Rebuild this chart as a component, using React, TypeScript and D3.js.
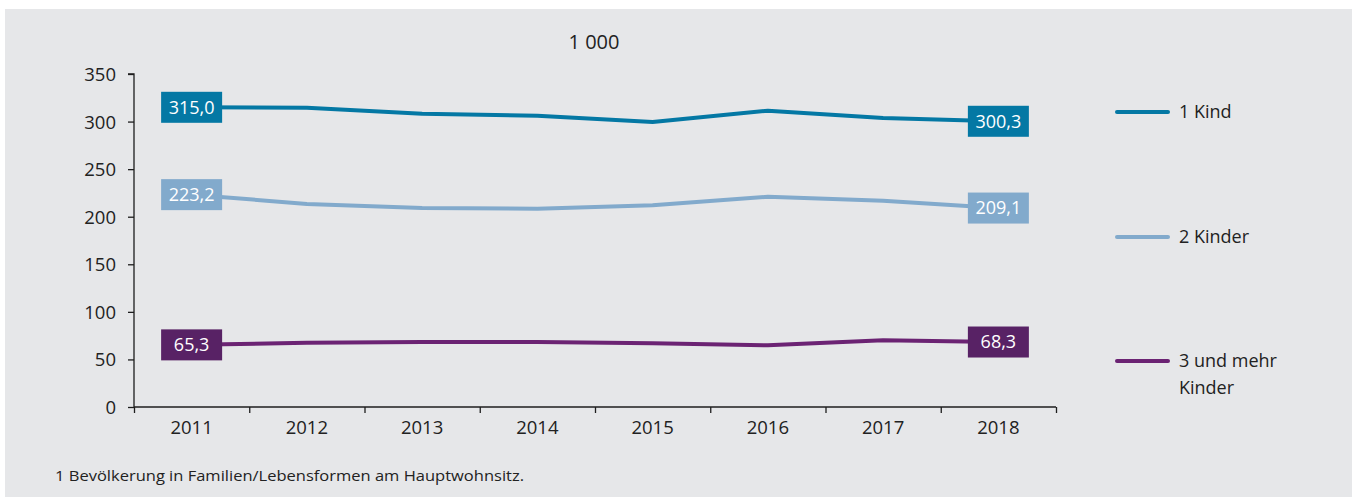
import { useRef, useEffect } from "react";
import * as d3 from "d3";

const years = ["2011", "2012", "2013", "2014", "2015", "2016", "2017", "2018"];
const einKind = [315.0, 314.6, 308.3, 306.2, 299.6, 311.4, 303.8, 300.3];
const zweiKinder = [223.2, 213.4, 209.2, 208.4, 212.0, 221.0, 216.8, 209.1];
const dreiUndMehr = [65.3, 67.6, 68.3, 68.4, 67.0, 64.8, 70.2, 68.3];
const seriesNames = ["1 Kind", "2 Kinder", "3 und mehr Kinder"];
const yTicks = [0, 50, 100, 150, 200, 250, 300, 350];
const unitLabel = "1 000";
const footnote = "1 Bevölkerung  in Familien/Lebensformen am Hauptwohnsitz.";

const W = 1352;
const H = 497;
const font = "'Open Sans', 'Noto Sans', sans-serif";

const App = () => {
  const svgRef = useRef<SVGSVGElement>(null);

  useEffect(() => {
    const svg = d3.select(svgRef.current);
    svg.selectAll("*").remove();

    // background panel
    svg.append("rect").attr("x", 5).attr("y", 9).attr("width", W - 5).attr("height", H - 9).attr("fill", "#e6e7e9");

    // scales
    const x = d3.scaleBand().domain(years).range([134, 1056]);
    const xEdge = d3.scaleLinear().domain([0, years.length]).range([134, 1056]);
    const y = d3.scaleLinear().domain([0, 350]).range([407, 74]);

    // axes
    const yAxis = svg
      .append("g")
      .attr("transform", "translate(134,0)")
      .call(d3.axisLeft(y).tickValues(yTicks).tickSize(6).tickPadding(12).tickFormat((d) => String(d)));
    const xTicks = svg
      .append("g")
      .attr("transform", "translate(0,407)")
      .call(d3.axisBottom(xEdge).ticks(years.length).tickSize(6).tickFormat(() => ""));
    const xLabels = svg
      .append("g")
      .attr("transform", "translate(0,407)")
      .call(d3.axisBottom(x).tickSize(0).tickPadding(14));
    xLabels.select(".domain").remove();
    [yAxis, xTicks].forEach((g) => {
      g.selectAll("path, line").attr("stroke", "#1e1e1e").attr("stroke-width", 1.3);
    });
    yAxis.select(".domain").attr("d", "M-6,74H0V407");
    xTicks.select(".domain").attr("d", "M134,0H1056");
    [yAxis, xLabels].forEach((g) =>
      g.selectAll("text").attr("font-family", font).attr("font-size", 18.5).attr("fill", "#222")
    );
    yAxis.selectAll("text").attr("dy", "0.35em");

    // title
    svg.append("text").attr("x", 594).attr("y", 49).attr("text-anchor", "middle")
      .attr("font-family", font).attr("font-size", 20).attr("fill", "#222").text(unitLabel);

    const series = [
      { name: seriesNames[0], values: einKind, line: "#0478a4", box: "#0478a4" },
      { name: seriesNames[1], values: zweiKinder, line: "#82aacc", box: "#82aacc" },
      { name: seriesNames[2], values: dreiUndMehr, line: "#6b2373", box: "#582265" },
    ];

    const line = d3
      .line<number>()
      .x((_, i) => (x(years[i]) as number) + x.bandwidth() / 2)
      .y((d) => y(d));

    series.forEach((s) => {
      svg.append("path").attr("d", line(s.values)).attr("fill", "none")
        .attr("stroke", s.line).attr("stroke-width", 4).attr("stroke-linejoin", "round");
      // end labels
      [0, s.values.length - 1].forEach((i) => {
        const cx = (x(years[i]) as number) + x.bandwidth() / 2;
        const cy = y(s.values[i]);
        svg.append("rect").attr("x", cx - 30.5).attr("y", cy - 15.5).attr("width", 61).attr("height", 31).attr("fill", s.box);
        svg.append("text").attr("x", cx).attr("y", cy).attr("dy", "0.35em").attr("text-anchor", "middle")
          .attr("font-family", font).attr("font-size", 18).attr("fill", "#fff")
          .text(d3.format(".1f")(s.values[i]).replace(".", ","));
      });
    });

    // legend
    const legendY = [112, 237, 361];
    series.forEach((s, i) => {
      svg.append("line").attr("x1", 1117).attr("x2", 1168).attr("y1", legendY[i]).attr("y2", legendY[i])
        .attr("stroke", s.line).attr("stroke-width", 4).attr("stroke-linecap", "round");
      const t = svg.append("text").attr("x", 1179).attr("y", legendY[i]).attr("dy", "0.35em")
        .attr("font-family", font).attr("font-size", 18).attr("fill", "#222");
      if (i === 2) {
        t.append("tspan").attr("x", 1179).text("3 und mehr");
        t.append("tspan").attr("x", 1179).attr("dy", "1.5em").text("Kinder");
      } else {
        t.text(s.name);
      }
    });

    // footnote
    svg.append("text").attr("x", 55).attr("y", 481).attr("font-family", font).attr("font-size", 15)
      .attr("fill", "#222").attr("textLength", 469).attr("lengthAdjust", "spacingAndGlyphs").text(footnote);
  }, []);

  return (
    <svg
      ref={svgRef}
      width={W}
      height={H}
      style={{ position: "fixed", left: 0, top: 0, background: "#fff" }}
    ></svg>
  );
};

export default App;
